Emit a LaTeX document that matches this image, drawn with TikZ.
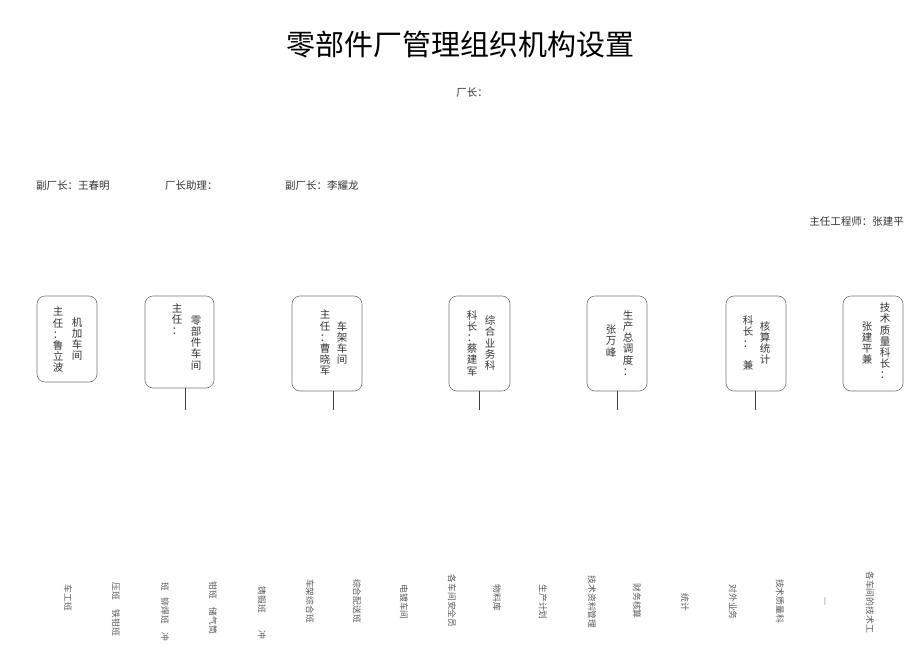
\documentclass[tikz,border=0pt]{standalone}
\usepackage{fontspec}
\setmainfont{Noto Sans CJK SC}
\begin{document}
\begin{tikzpicture}[x=1pt,y=-1pt,
  box/.style={draw=black!55, rounded corners=8pt, line width=0.6pt, inner sep=0pt},
  vt/.style={align=center, inner sep=0pt, text=black!80, font=\fontsize{10.5}{11.2}\selectfont},
  hd/.style={inner sep=0pt, text=black!80, font=\fontsize{10.5}{12}\selectfont},
  bt/.style={rotate=-90, inner sep=0pt, text=black!65, font=\fontsize{8.8}{10}\selectfont},
  conn/.style={draw=black!75, line width=0.8pt}]
\useasboundingbox (0,0) rectangle (920,651);
% title and heads
\node[inner sep=0pt, font=\fontsize{29}{32}\selectfont] (title) at (460,45) {零部件厂管理组织机构设置};
\node[hd] (cz) at (472,93) {厂长：};
\node[hd, anchor=west] (fcz1) at (36,186) {副厂长：王春明};
\node[hd, anchor=west] (zl) at (165,186) {厂长助理：};
\node[hd, anchor=west] (fcz2) at (285,186) {副厂长：李耀龙};
\node[hd, anchor=east] (zg) at (904,222) {主任工程师：张建平};
% boxes
\node[box, minimum width=60, minimum height=86] (b1) at (67,339) {};
\node[box, minimum width=69, minimum height=92] (b2) at (179.5,342) {};
\node[box, minimum width=70, minimum height=95] (b3) at (327,343.5) {};
\node[box, minimum width=61, minimum height=95] (b4) at (479.5,343.5) {};
\node[box, minimum width=60, minimum height=95] (b5) at (617,343.5) {};
\node[box, minimum width=60, minimum height=95] (b6) at (756,343.5) {};
\node[box, minimum width=60, minimum height=95] (b7) at (873,343.5) {};
% box texts
\node[vt] (t1a) at (58,340) {主\\任\\：\\鲁\\立\\波};
\node[vt] (t1b) at (77,339) {机\\加\\车\\间};
\node[vt] (t2a) at (177,319) {主\\任\\：};
\node[vt] (t2b) at (196,343) {零\\部\\件\\车\\间};
\node[vt] (t3a) at (325,343) {主\\任\\：\\曹\\晓\\军};
\node[vt] (t3b) at (342,343) {车\\架\\车\\间};
\node[vt] (t4a) at (472,343) {科\\长\\：\\蔡\\建\\军};
\node[vt] (t4b) at (490,343) {综\\合\\业\\务\\科};
\node[vt] (t5a) at (611,341) {张\\万\\峰};
\node[vt] (t5b) at (628,343) {生\\产\\总\\调\\度\\：};
\node[vt] (t6a) at (748,343) {科\\长\\：\\[11pt]兼};
\node[vt] (t6b) at (765,343) {核\\算\\统\\计};
\node[vt] (t7a) at (867,343) {张\\建\\平\\兼};
\node[vt] (t7b) at (885,341) {技\\术\\质\\量\\科\\长\\：};
% connectors
\coordinate (e2) at (185,410);
\coordinate (e3) at (333,410);
\coordinate (e4) at (479,410);
\coordinate (e5) at (617,410);
\coordinate (e6) at (755,410);
\draw[conn] (b2.south -| e2) -- (e2);
\draw[conn] (b3.south -| e3) -- (e3);
\draw[conn] (b4.south -| e4) -- (e4);
\draw[conn] (b5.south -| e5) -- (e5);
\draw[conn] (b6.south -| e6) -- (e6);
% bottom labels
\node[bt] (c1) at (68,598) {车工班};
\node[bt] (c2a) at (116,591) {压班};
\node[bt] (c2b) at (116,623) {铁钳班};
\node[bt] (c3a) at (165,587) {班};
\node[bt] (c3b) at (165,611) {铆焊班};
\node[bt] (c3c) at (165,637) {冲};
\node[bt] (c4a) at (213,590) {钳班};
\node[bt] (c4b) at (213,621) {储气筒};
\node[bt] (c5a) at (262,600) {铸锻班};
\node[bt] (c5b) at (262,635) {冲};
\node[bt] (c6) at (310,601) {车架综合班};
\node[bt] (c7) at (357,601) {综合配送班};
\node[bt] (c8) at (404,602) {电镀车间};
\node[bt] (c9) at (452,601) {各车间安全员};
\node[bt] (c10) at (497,598) {物料库};
\node[bt] (c11) at (543,602) {生产计划};
\node[bt] (c12) at (592,602) {技术资料管理};
\node[bt] (c13) at (637,601) {财务核算};
\node[bt] (c14) at (685,602) {统计};
\node[bt] (c15) at (733,602) {对外业务};
\node[bt] (c16) at (780,601) {技术质量科};
\node[inner sep=0pt, text=black!65, font=\fontsize{7}{8}\selectfont] (c17) at (825,602) {|};
\node[bt] (c18) at (870,602) {各车间的技术工};
\end{tikzpicture}
\end{document}
